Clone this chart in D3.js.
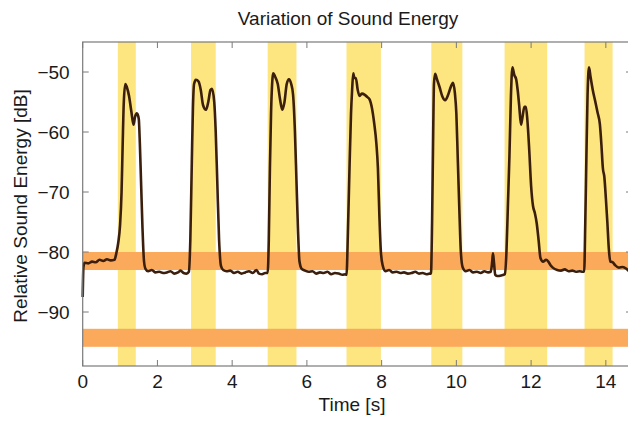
<!DOCTYPE html>
<html>
<head>
<meta charset="utf-8">
<script src="https://cdn.jsdelivr.net/npm/d3@7"></script>
<style>
  html, body { margin: 0; padding: 0; background: #ffffff; }
  svg { display: block; font-family: 'Liberation Sans', Arial, Helvetica, sans-serif; }
</style>
</head>
<body>
<svg id="chart" width="628" height="421"></svg>
<script>
const times = [
  0.00, 0.02, 0.05, 0.15, 0.25, 0.35, 0.45, 0.55, 0.65, 0.75, 0.85, 0.90, 0.95, 1.00, 1.04, 1.07, 1.10, 1.14, 1.18, 1.24,
  1.30, 1.36, 1.40, 1.45, 1.50, 1.53, 1.56, 1.60, 1.64, 1.68, 1.75, 1.85, 1.95, 2.05, 2.15, 2.25, 2.35, 2.45, 2.55, 2.62,
  2.70, 2.78, 2.84, 2.88, 2.92, 2.95, 2.98, 3.03, 3.10, 3.16, 3.22, 3.30, 3.36, 3.42, 3.46, 3.52, 3.56, 3.60, 3.65, 3.70,
  3.76, 3.85, 3.95, 4.05, 4.15, 4.25, 4.35, 4.45, 4.55, 4.65, 4.72, 4.80, 4.88, 4.95, 4.98, 5.01, 5.04, 5.08, 5.10, 5.15,
  5.22, 5.28, 5.34, 5.40, 5.46, 5.52, 5.58, 5.63, 5.68, 5.72, 5.76, 5.80, 5.86, 5.95, 6.05, 6.15, 6.25, 6.35, 6.45, 6.55,
  6.65, 6.75, 6.85, 6.95, 7.03, 7.06, 7.10, 7.14, 7.18, 7.21, 7.24, 7.27, 7.31, 7.36, 7.41, 7.47, 7.55, 7.62, 7.68, 7.74,
  7.80, 7.86, 7.90, 7.94, 7.98, 8.03, 8.10, 8.20, 8.30, 8.40, 8.50, 8.60, 8.70, 8.80, 8.90, 9.00, 9.10, 9.20, 9.28, 9.32,
  9.35, 9.38, 9.40, 9.43, 9.48, 9.55, 9.62, 9.70, 9.78, 9.85, 9.91, 9.96, 10.00, 10.04, 10.08, 10.12, 10.17, 10.25, 10.35, 10.45,
  10.55, 10.65, 10.75, 10.85, 10.92, 10.96, 10.98, 11.01, 11.04, 11.10, 11.20, 11.30, 11.34, 11.38, 11.42, 11.46, 11.50, 11.55, 11.60, 11.64,
  11.68, 11.73, 11.77, 11.82, 11.86, 11.90, 11.95, 12.00, 12.05, 12.10, 12.15, 12.20, 12.25, 12.32, 12.40, 12.46, 12.52, 12.58, 12.70, 12.80,
  12.90, 13.00, 13.10, 13.20, 13.30, 13.38, 13.42, 13.45, 13.48, 13.51, 13.55, 13.59, 13.65, 13.72, 13.78, 13.84, 13.88, 13.92, 13.96, 14.00,
  14.04, 14.08, 14.12, 14.18, 14.25, 14.35, 14.45, 14.55, 14.62, 14.70
];
const energy = [
  -87.5, -82.5, -81.8, -81.9, -81.6, -81.7, -81.3, -81.5, -81.2, -81.4, -81.3, -80.2, -78.5, -75.5, -70.0, -62.0, -55.0, -52.0, -52.5, -54.0,
  -56.5, -58.8, -57.5, -56.9, -57.8, -62.0, -68.0, -76.0, -81.5, -82.8, -83.2, -83.0, -83.4, -83.3, -83.5, -83.4, -83.2, -83.6, -83.4, -83.1,
  -83.5, -83.6, -83.3, -78.0, -65.0, -56.0, -52.0, -51.3, -51.6, -53.0, -55.5, -56.3, -55.0, -53.0, -52.8, -55.0, -60.0, -68.0, -78.0, -82.3,
  -83.0, -83.2, -83.1, -83.5, -83.3, -83.6, -83.4, -83.2, -83.5, -83.0, -83.6, -83.7, -83.5, -83.5, -78.0, -66.0, -57.0, -51.0, -50.2, -50.8,
  -52.0, -54.5, -56.3, -55.0, -52.0, -51.2, -52.0, -53.8, -60.0, -68.0, -76.0, -81.5, -82.8, -83.1, -83.3, -83.2, -83.6, -83.4, -83.5, -83.3,
  -83.7, -83.5, -83.6, -83.8, -83.7, -83.8, -76.0, -66.0, -57.0, -53.0, -50.2, -51.0, -51.0, -53.0, -54.0, -53.6, -53.8, -54.2, -54.6, -56.0,
  -58.5, -62.0, -66.0, -74.0, -80.0, -82.3, -83.2, -83.0, -83.4, -83.3, -83.5, -83.4, -83.6, -83.5, -83.3, -83.6, -83.5, -83.7, -83.6, -83.6,
  -75.0, -60.0, -52.0, -50.3, -51.2, -52.5, -54.0, -54.7, -53.8, -52.5, -51.8, -53.5, -57.0, -65.0, -73.0, -80.0, -82.6, -83.2, -83.0, -83.4,
  -83.3, -83.5, -83.2, -83.4, -83.3, -81.5, -80.2, -82.0, -83.8, -84.0, -83.9, -83.7, -80.0, -72.0, -64.0, -54.0, -49.2, -50.5, -51.2, -53.0,
  -55.5, -58.8, -57.5, -55.8, -55.8, -58.0, -63.0, -69.0, -72.3, -73.5, -75.2, -78.0, -81.0, -81.6, -81.3, -81.6, -82.2, -82.6, -83.0, -83.1,
  -82.9, -83.2, -83.1, -83.3, -83.2, -83.3, -83.3, -75.0, -64.0, -54.0, -49.2, -50.8, -53.0, -55.0, -56.8, -58.7, -62.0, -66.0, -67.5, -71.0,
  -75.0, -79.5, -81.6, -81.7, -82.2, -82.6, -82.5, -82.8, -83.2, -83.4
];

// highlighted time intervals (yellow) and level bands (orange)
const cueStart = [0.94, 2.90, 4.95, 7.06, 9.33, 11.29, 13.43];
const cueEnd = [1.42, 3.56, 5.72, 7.98, 10.16, 12.43, 14.18];
const bandTop = [-80.0, -92.8];
const bandBottom = [-83.0, -95.8];

const xTicks = [0, 2, 4, 6, 8, 10, 12, 14];
const yTicks = [-90, -80, -70, -60, -50];

(function () {
  const svg = d3.select('#chart');
  const left = 82.7;
  const right = 632;
  const top = 42;
  const bottom = 366;
  const fontSize = 19;
  const axisColor = '#7a7a7a';
  const tickLen = 6;

  const x = d3.scaleLinear().domain([0, 14.7]).range([left, right]);
  const y = d3.scaleLinear().domain([-99, -45]).range([bottom, top]);

  const plot = svg.append('g');

  // yellow time intervals
  plot
    .selectAll('rect.cue')
    .data(cueStart.map((s, i) => ({ s, e: cueEnd[i] })))
    .join('rect')
    .attr('class', 'cue')
    .attr('x', (d) => x(d.s))
    .attr('width', (d) => x(d.e) - x(d.s))
    .attr('y', top)
    .attr('height', bottom - top)
    .attr('fill', '#fde57f');

  // orange level bands
  plot
    .selectAll('rect.band')
    .data(bandTop.map((t, i) => ({ t, b: bandBottom[i] })))
    .join('rect')
    .attr('class', 'band')
    .attr('x', left)
    .attr('width', right - left)
    .attr('y', (d) => y(d.t))
    .attr('height', (d) => y(d.b) - y(d.t))
    .attr('fill', '#fbaa5c');

  const line = d3
    .line()
    .x((d) => x(d[0]))
    .y((d) => y(d[1]))
    .curve(d3.curveMonotoneX);

  plot
    .append('path')
    .datum(times.map((t, i) => [t, energy[i]]))
    .attr('d', line)
    .attr('fill', 'none')
    .attr('stroke', '#3b1f0c')
    .attr('stroke-width', 2.6)
    .attr('stroke-linejoin', 'round');

  // axes, matlab style: box with inward ticks
  const axes = svg.append('g').attr('stroke', axisColor).attr('fill', 'none');
  axes
    .append('rect')
    .attr('x', left)
    .attr('y', top)
    .attr('width', right - left)
    .attr('height', bottom - top)
    .attr('stroke-width', 1.2);

  xTicks.forEach((v) => {
    axes.append('line').attr('x1', x(v)).attr('x2', x(v)).attr('y1', bottom).attr('y2', bottom - tickLen);
    axes.append('line').attr('x1', x(v)).attr('x2', x(v)).attr('y1', top).attr('y2', top + tickLen);
  });
  yTicks.forEach((v) => {
    axes.append('line').attr('x1', left).attr('x2', left + tickLen).attr('y1', y(v)).attr('y2', y(v));
    axes.append('line').attr('x1', right).attr('x2', right - tickLen).attr('y1', y(v)).attr('y2', y(v));
  });

  const fmt = (v) => String(v).replace('-', '\u2212');

  svg
    .append('g')
    .selectAll('text')
    .data(xTicks)
    .join('text')
    .attr('x', (d) => x(d))
    .attr('y', 388)
    .attr('text-anchor', 'middle')
    .attr('font-size', fontSize)
    .attr('fill', '#1a1a1a')
    .text(fmt);

  svg
    .append('g')
    .selectAll('text')
    .data(yTicks)
    .join('text')
    .attr('x', left - 13)
    .attr('y', (d) => y(d))
    .attr('dy', '0.35em')
    .attr('text-anchor', 'end')
    .attr('font-size', fontSize)
    .attr('fill', '#1a1a1a')
    .text(fmt);

  svg
    .append('text')
    .attr('x', 348)
    .attr('y', 25)
    .attr('text-anchor', 'middle')
    .attr('font-size', fontSize)
    .attr('fill', '#1a1a1a')
    .text('Variation of Sound Energy');

  svg
    .append('text')
    .attr('x', 352)
    .attr('y', 411)
    .attr('text-anchor', 'middle')
    .attr('font-size', fontSize)
    .attr('fill', '#1a1a1a')
    .text('Time [s]');

  svg
    .append('text')
    .attr('transform', 'translate(27,206) rotate(-90)')
    .attr('text-anchor', 'middle')
    .attr('font-size', fontSize)
    .attr('fill', '#1a1a1a')
    .text('Relative Sound Energy [dB]');
})();
</script>
</body>
</html>
